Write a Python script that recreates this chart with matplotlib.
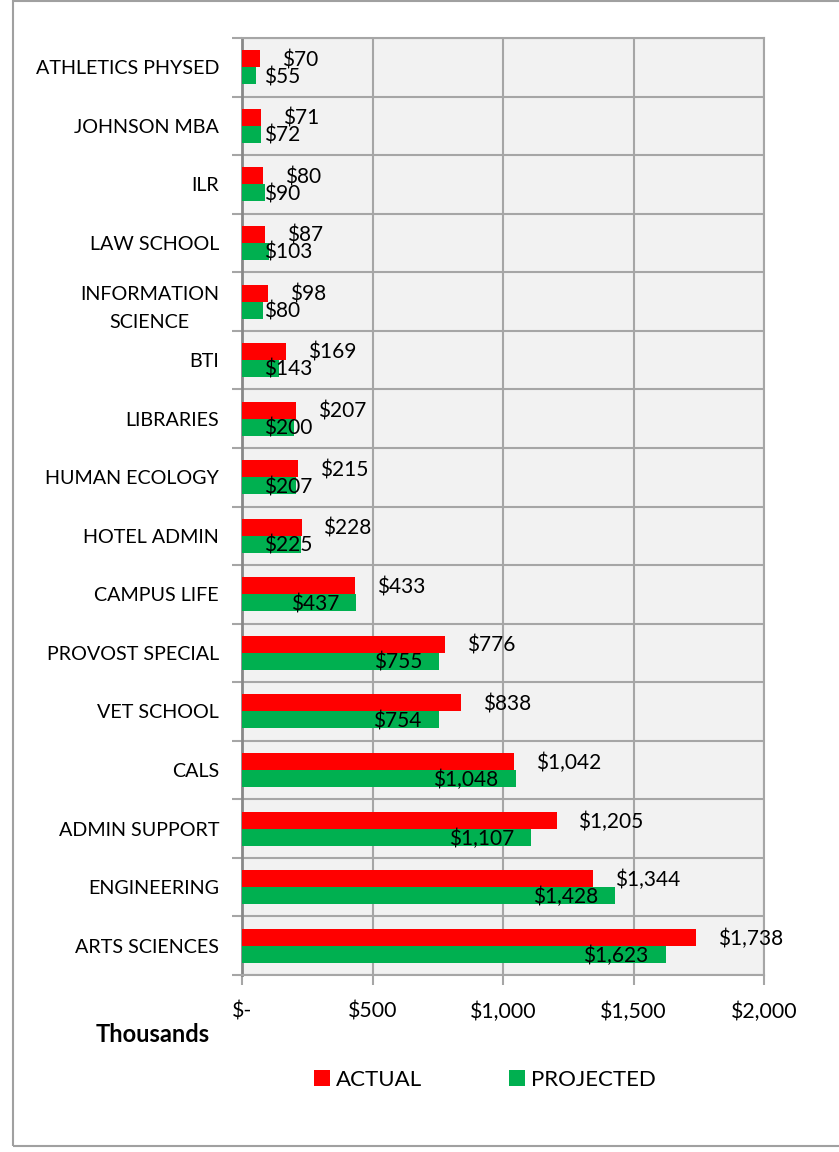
import matplotlib
matplotlib.use('Agg')
import matplotlib.pyplot as plt
import numpy as np
from matplotlib.patches import Patch, Rectangle
from matplotlib.ticker import FuncFormatter, FixedLocator

departments = ['ATHLETICS PHYSED', 'JOHNSON MBA', 'ILR', 'LAW SCHOOL',
               'INFORMATION\nSCIENCE', 'BTI', 'LIBRARIES', 'HUMAN ECOLOGY',
               'HOTEL ADMIN', 'CAMPUS LIFE', 'PROVOST SPECIAL', 'VET SCHOOL',
               'CALS', 'ADMIN SUPPORT', 'ENGINEERING', 'ARTS SCIENCES']
actual = [70, 71, 80, 87, 98, 169, 207, 215, 228, 433, 776, 838, 1042, 1205, 1344, 1738]
projected = [55, 72, 90, 103, 80, 143, 200, 207, 225, 437, 755, 754, 1048, 1107, 1428, 1623]
xticks = [0, 500, 1000, 1500, 2000]

RED = '#FF0000'
GREEN = '#00B050'
GRID = '#A6A6A6'
FONT = 'Lato'

plt.rcParams['font.family'] = [FONT, 'DejaVu Sans']

fig = plt.figure(figsize=(8.39, 11.52), dpi=100)
ax = fig.add_axes([242 / 839, 1 - 975 / 1152, 522 / 839, 937 / 1152])
ax.set_facecolor('#F2F2F2')

n = len(departments)
y = np.arange(n)
h = 0.29
ax.barh(y - h / 2, actual, height=h, color=RED, zorder=3, label='ACTUAL')
ax.barh(y + h / 2, projected, height=h, color=GREEN, zorder=3, label='PROJECTED')

ax.set_xlim(0, 2000)
ax.set_ylim(n - 0.5, -0.5)

ax.xaxis.set_major_locator(FixedLocator(xticks))
ax.xaxis.set_major_formatter(FuncFormatter(lambda v, p: '$-' if v == 0 else f'${v:,.0f}'))
ax.set_yticks(y)
ax.set_yticklabels(departments, fontsize=14.2, ha='right', multialignment='center',
                   linespacing=1.75)
ax.set_yticks(np.arange(n + 1) - 0.5, minor=True)
ax.tick_params(axis='y', which='major', length=0, pad=16.5)
ax.tick_params(axis='y', which='minor', length=7, color=GRID, width=1.5)
ax.tick_params(axis='x', which='major', length=7, color=GRID, width=1.5,
               labelsize=15.3, pad=12)
ax.grid(axis='x', color=GRID, lw=1.5, zorder=0)
ax.grid(axis='y', which='minor', color=GRID, lw=1.5, zorder=0)
for s in ax.spines.values():
    s.set_color(GRID)
    s.set_linewidth(1.5)
ax.spines['left'].set_color('#888888')
ax.spines['left'].set_linewidth(2)

px = 0.72  # points per pixel at 100 dpi
for i, v in enumerate(actual):
    ax.annotate(f'${v:,}', xy=(v, i - h / 2), xytext=(22 * px, -1),
                textcoords='offset points', ha='left', va='center',
                fontsize=15, zorder=5)

proj_texts = []
for i, v in enumerate(projected):
    t = ax.annotate(f'${v:,}', xy=(v, i + h / 2), xytext=(-17 * px, -1),
                    textcoords='offset points', ha='right', va='center',
                    fontsize=15, zorder=5)
    proj_texts.append((t, i))

fig.canvas.draw()
x_axis0 = ax.transData.transform((0, 0))[0]
for t, i in proj_texts:
    bb = t.get_window_extent()
    if bb.x0 < x_axis0 + 22:
        t.xy = (0, i + h / 2)
        t.set_position((22 * px, -1))
        t.set_ha('left')

fig.text(153 / 839, 1 - 1035 / 1152, 'Thousands', fontsize=17, fontweight='bold',
         ha='center', va='center')

handles = [Patch(facecolor=RED, label='ACTUAL'), Patch(facecolor=GREEN, label='PROJECTED')]
fig.legend(handles=handles, loc='center', bbox_to_anchor=(485 / 839, 1 - 1080 / 1152),
           ncol=2, frameon=False, fontsize=16, handlelength=0.7, handleheight=0.7,
           handletextpad=0.3, columnspacing=3.9)

fig.patches.append(Rectangle((13 / 839, 1 - 1146 / 1152), 1.0, 1145 / 1152,
                             transform=fig.transFigure, fill=False,
                             edgecolor='#A0A0A0', lw=1.5))

fig.savefig('out.png', dpi=100, facecolor='white')
